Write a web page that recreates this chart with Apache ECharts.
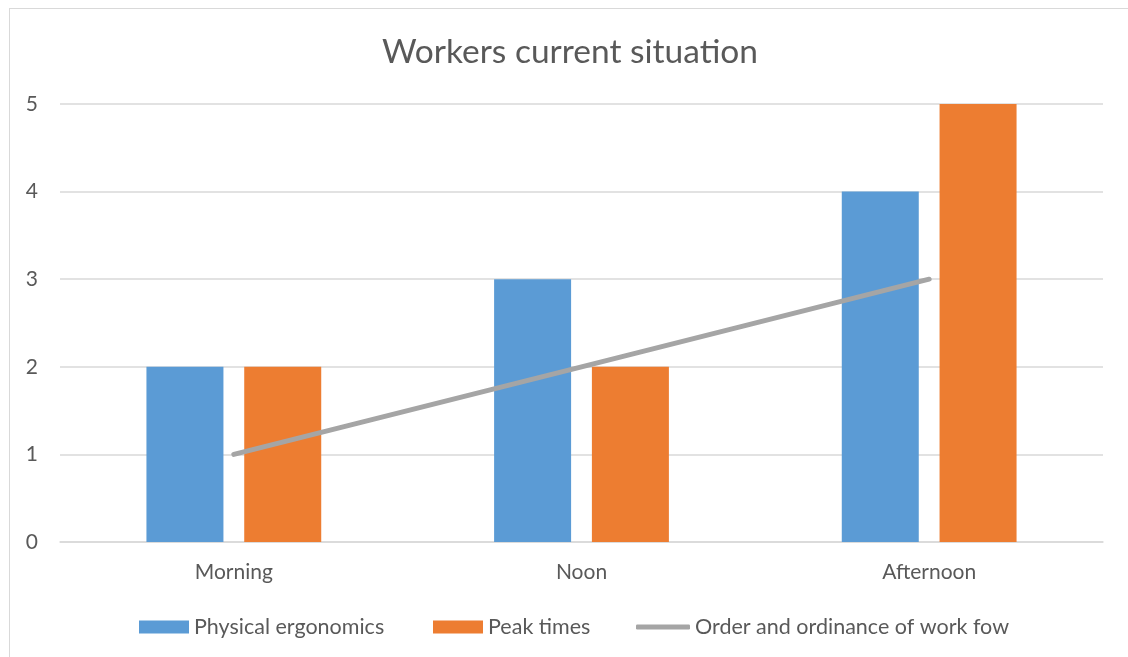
<!DOCTYPE html>
<html>
<head>
    <meta charset="utf-8">
    <title>workers</title>
    <script src="https://cdn.jsdelivr.net/npm/echarts@6/dist/echarts.min.js"></script>
    <style>
        html, body { margin: 0; padding: 0; overflow: hidden; background: #fff; }
        #frame { position: absolute; left: 9px; top: 8px; width: 1200px; height: 700px;
                 border-left: 1px solid #d9d9d9; border-top: 1px solid #d9d9d9; }
        #main { position: absolute; left: -10px; top: -9px; width: 1128px; height: 657px; }
    </style>
</head>
<body>
<div id="frame"><div id="main"></div></div>

<script type="text/javascript">
    var categories = ['Morning', 'Noon', 'Afternoon'];
    var ergonomics = [2, 3, 4];
    var peakTimes = [2, 2, 5];
    var workFlow = [1, 2, 3];

    var font = 'Lato, "Open Sans", sans-serif';
    var textColor = '#595959';
    var legendText = { color: textColor, fontSize: 21.5, fontFamily: font };

    var myChart = echarts.init(document.getElementById('main'));

    var option = {
        animation: false,
        title: {
            text: 'Workers current situation',
            left: 377,
            top: 30,
            textStyle: { color: textColor, fontSize: 33.5, fontWeight: 'normal', fontFamily: font }
        },
        legend: [
            { data: ['Physical ergonomics'], icon: 'rect', left: 134, top: 611, itemWidth: 50, itemHeight: 13, textStyle: legendText },
            { data: ['Peak times'], icon: 'rect', left: 428, top: 611, itemWidth: 50, itemHeight: 13, textStyle: legendText },
            { data: ['Order and ordinance of work fow'], icon: 'roundRect', left: 631, top: 611, itemWidth: 54, itemHeight: 5, textStyle: legendText }
        ],
        grid: { left: 60, right: 25, top: 104, bottom: 115 },
        xAxis: {
            type: 'category',
            data: categories,
            axisLine: { lineStyle: { color: '#d9d9d9', width: 1.5 } },
            axisTick: { show: false },
            axisLabel: { color: textColor, fontSize: 21, fontFamily: font, margin: 20 }
        },
        yAxis: {
            type: 'value',
            min: 0,
            max: 5,
            interval: 1,
            axisLine: { show: false },
            axisTick: { show: false },
            splitLine: { lineStyle: { color: '#d9d9d9', width: 1.5 } },
            axisLabel: { color: textColor, fontSize: 21, fontFamily: font, margin: 22 }
        },
        series: [
            {
                name: 'Physical ergonomics',
                type: 'bar',
                data: ergonomics,
                barWidth: 77,
                barGap: '27%',
                itemStyle: { color: '#5b9bd5' }
            },
            {
                name: 'Peak times',
                type: 'bar',
                data: peakTimes,
                barWidth: 77,
                itemStyle: { color: '#ed7d31' }
            },
            {
                name: 'Order and ordinance of work fow',
                type: 'line',
                data: workFlow,
                symbol: 'none',
                z: 5,
                itemStyle: { color: '#a5a5a5' },
                lineStyle: { color: '#a5a5a5', width: 5, cap: 'round' }
            }
        ]
    };

    myChart.setOption(option);
</script>
</body>
</html>
